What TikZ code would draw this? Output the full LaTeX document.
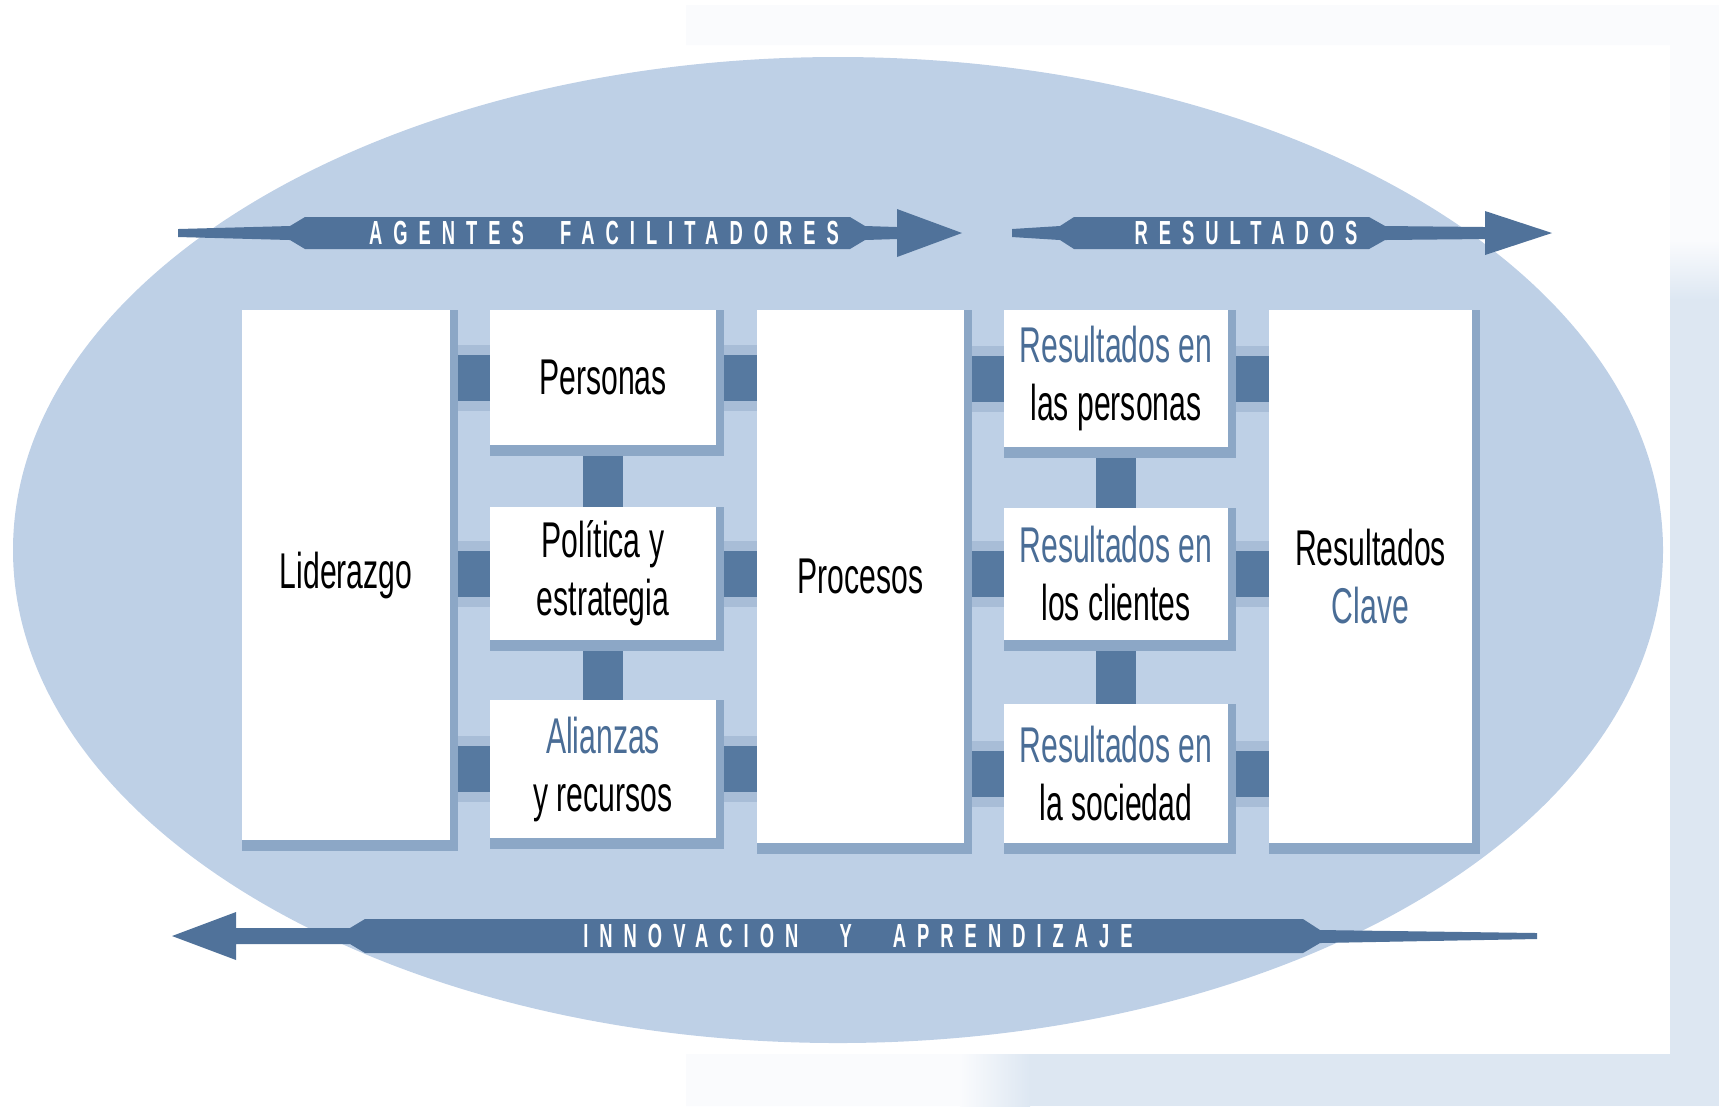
\documentclass[tikz,border=0pt]{standalone}
\usepackage{fontspec}
\usepackage{tikz}
\usetikzlibrary{positioning,shadows}
\pgfdeclarelayer{background layer}
\pgfsetlayers{background layer,main}
\newfontfamily\condfont[FakeStretch=0.6]{Liberation Sans}
\newfontfamily\bandfont[FakeStretch=0.55,LetterSpace=33]{Liberation Sans}
\newcommand\boxfont{\condfont\fontsize{14.3}{16.5}\selectfont}
\definecolor{oval}{RGB}{190,208,230}
\definecolor{band}{RGB}{80,114,154}
\definecolor{linkblue}{RGB}{86,121,160}
\definecolor{halo}{RGB}{168,189,215}
\definecolor{shade}{RGB}{140,167,198}
\definecolor{tint}{RGB}{74,109,150}
\definecolor{pagetint}{RGB}{221,231,242}
\definecolor{ghost}{RGB}{250,251,253}

\begin{document}
\begin{tikzpicture}[x=0.1mm,y=-0.1mm]
\tikzstyle{box}=[fill=white,inner sep=0pt,outer sep=0pt,align=center,anchor=north west,font=\boxfont,
  drop shadow={shadow xshift=0.8mm,shadow yshift=0mm,fill=shade,opacity=1},
  drop shadow={shadow xshift=0mm,shadow yshift=-1.1mm,fill=shade,opacity=1},
  drop shadow={shadow xshift=0.8mm,shadow yshift=-1.1mm,fill=shade,opacity=1}]
\tikzstyle{link}=[draw=linkblue,line width=4.6mm,preaction={draw=halo,line width=6.6mm}]
\tikzstyle{vlink}=[draw=linkblue,line width=4mm]
\tikzstyle{bandtext}=[text=white,inner sep=0pt,font=\bandfont\bfseries\fontsize{9.5}{9.5}\selectfont]
\useasboundingbox (0,0) rectangle (1719,1106);
% criteria boxes
\node [box,minimum width=20.8mm,minimum height=53mm] at (242,310) (lid) {Liderazgo};
\node [box,minimum width=22.6mm,minimum height=13.5mm,right=4mm of lid.north east,anchor=north west] (per) {Personas};
\node [box,minimum width=22.6mm,minimum height=13.3mm,below=6.2mm of per] (pol) {Política y\\estrategia};
\node [box,minimum width=22.6mm,minimum height=13.8mm,below=6mm of pol] (ali) {{\color{tint}Alianzas}\\y recursos};
\node [box,minimum width=20.7mm,minimum height=53.3mm,right=4.1mm of per.north east,anchor=north west] (pro) {Procesos};
\node [box,minimum width=22.4mm,minimum height=13.7mm,right=4mm of pro.north east,anchor=north west] (rpe) {{\color{tint}Resultados en}\\las personas};
\node [box,minimum width=22.4mm,minimum height=13.2mm,below=6.1mm of rpe] (rcl) {{\color{tint}Resultados en}\\los clientes};
\node [box,minimum width=22.4mm,minimum height=13.9mm,below=6.4mm of rcl] (rso) {{\color{tint}Resultados en}\\la sociedad};
\node [box,minimum width=20.3mm,minimum height=53.3mm,right=4.1mm of rpe.north east,anchor=north west] (cla) {Resultados\\{\color{tint}Clave}};
% band arrows
\fill [band] (178,229) -- (290,226) -- (305,217) -- (850,217) -- (865,226) -- (897,227) -- (897,209) -- (962,233)
  -- (897,257) -- (897,239) -- (865,240) -- (850,249) -- (305,249) -- (290,240) -- (178,237) -- cycle;
\fill [band] (1012,229) -- (1060,226) -- (1074,217) -- (1369,217) -- (1385,226) -- (1485,227) -- (1485,211) -- (1552,233)
  -- (1485,255) -- (1485,239) -- (1385,240) -- (1369,249) -- (1074,249) -- (1060,240) -- (1012,237) -- cycle;
\fill [band] (172,936) -- (236,912) -- (236,928) -- (350,928) -- (365,919) -- (1303,919) -- (1320,930) -- (1537,933)
  -- (1537,939) -- (1320,943) -- (1303,953) -- (365,953) -- (350,944) -- (236,944) -- (236,960) -- cycle;
\node [bandtext] at (604,233) (agt) {AGENTES\hspace{2mm} FACILITADORES};
\node [bandtext] at (1246,233) (res) {RESULTADOS};
\node [bandtext] at (858,936) (inn) {INNOVACION\hspace{2.5mm} Y\hspace{2.5mm} APRENDIZAJE};
\begin{pgfonlayer}{background layer}
\fill [ghost] (686,5) -- (1719,5) -- (1719,1106) -- (686,1106) -- (686,1054) -- (1670,1054) -- (1670,45) -- (686,45) -- cycle;
\shade [top color=ghost,bottom color=pagetint] (1670,240) rectangle (1719,300);
\fill [pagetint] (1670,300) rectangle (1719,1106);
\shade [left color=ghost,right color=pagetint] (960,1054) rectangle (1030,1106);
\fill [pagetint] (1030,1054) rectangle (1670,1106);
\fill [oval] (838,550) ellipse [x radius=825,y radius=493];
\foreach \a/\b in {per/rpe,pol/rcl,ali/rso}{
  \draw [link] (lid.east |- \a.west) -- (\a.west);
  \draw [link] (\a.east) -- (pro.west |- \a.east);
  \draw [link] (pro.east |- \b.west) -- (\b.west);
  \draw [link] (\b.east) -- (cla.west |- \b.east);
}
\draw [vlink] (per) -- (pol);
\draw [vlink] (pol) -- (ali);
\draw [vlink] (rpe) -- (rcl);
\draw [vlink] (rcl) -- (rso);
\end{pgfonlayer}
\end{tikzpicture}
\end{document}
